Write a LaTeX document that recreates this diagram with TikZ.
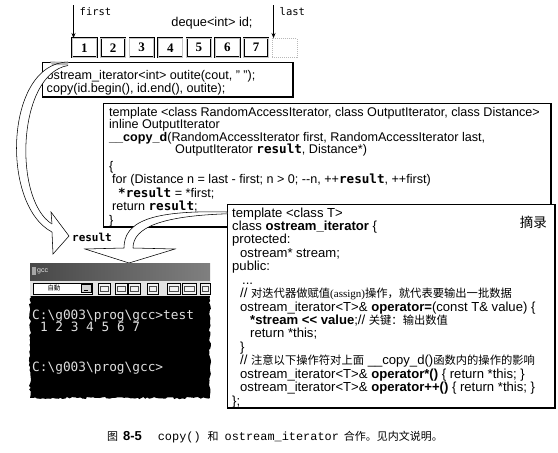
\documentclass[tikz,border=0pt]{standalone}
\usepackage{fontspec}
\setmainfont{Liberation Sans}
\newfontfamily\cjk{Noto Sans CJK SC}
\newfontfamily\dmono{DejaVu Sans Mono}
\newfontfamily\cmono{Liberation Mono}
\newfontfamily\tserif{Liberation Serif}
\usetikzlibrary{arrows.meta,decorations.pathmorphing}
\newcommand{\rsw}{{\dmono\bfseries result}}
\newcommand{\zh}[1]{{\cjk\fontsize{11.3}{13}\selectfont #1}}
\tikzset{
  code/.style={anchor=base west, inner sep=0pt, font=\fontsize{12.6}{13}\selectfont},
  ocode/.style={anchor=base west, inner sep=0pt, font=\fontsize{13.1}{13}\selectfont},
  numbox/.style={draw, line width=0.45pt, double=gray!45, double distance=0.9pt,
     minimum width=24.5pt, minimum height=19pt, inner sep=0pt, anchor=north west,
     font=\tserif\bfseries\fontsize{13}{14}\selectfont},
  emptybox/.style={draw=gray!55, dash pattern=on 1pt off 1pt, line width=0.4pt,
     minimum width=24.5pt, minimum height=19pt, anchor=north west},
  codebox/.style={draw, line width=0.7pt, fill=white},
  ptr/.style={-{Stealth[length=5pt,width=4pt]}, line width=0.5pt},
  lbl/.style={inner sep=0pt, font=\dmono\fontsize{10.5}{12}\selectfont},
  cons/.style={anchor=base west, inner sep=0pt, text=gray!25, font=\dmono\fontsize{12.8}{14}\selectfont},
  hollow/.style={line width=0.55pt},
}
\begin{document}
\begin{tikzpicture}[x=1pt,y=-1pt]
\useasboundingbox (0,0) rectangle (558,453);

% ---------- top: deque ----------
\node[lbl, anchor=west] (firstlbl) at (79.5,12) {first};
\node[lbl, anchor=west] (lastlbl) at (279.5,12) {last};
\node[inner sep=0pt, font=\fontsize{12.8}{14}\selectfont] (deq) at (212,23) {deque<int> id;};
\foreach \i in {1,...,7}{
  \node[numbox] (b\i) at ({72+28.6*(\i-1)},38) {\i};
}
\node[emptybox] (b8) at (272.2,38) {};
\coordinate (f0) at (73.5,5);
\coordinate (l0) at (273.5,5);
\draw[ptr] (f0) -- (f0 |- b1.north);
\draw[ptr] (l0) -- (l0 |- b8.north);

% ---------- outite box ----------
\draw[codebox] (42,62) rectangle (293,97);
\draw[line width=1.3pt] (42,97) -- (293,97) -- (293,62);
\node[code] (o1) at (46.5,79.5) {ostream\_iterator<int> outite(cout, " ");};
\node[code] (o2) at (46.5,92) {copy(id.begin(), id.end(), outite);};

% ---------- left curved hollow arrow ----------
\fill[white] (68,62) .. controls (5,63) and (0,205) .. (52,232)
   -- (52,224) .. controls (13,200) and (17,74) .. (68,65.5) -- cycle;
\fill[gray!55] (50,61.3) -- (68,62) -- (68,65.5) -- (52,64.8) -- cycle;
\draw[hollow] (68,62) .. controls (5,63) and (0,205) .. (52,232);
\draw[hollow] (68,65.5) .. controls (17,74) and (13,200) .. (52,224);
\fill[white] (51,212) -- (69,236) -- (53,254) -- cycle;
\draw[hollow, line join=miter] (52,224) -- (51,212) -- (69,236) -- (53,254) -- (52,232);
\node[inner sep=0pt, font=\dmono\bfseries\fontsize{11}{13}\selectfont] (reslbl) at (92,237) {result};

% ---------- template (__copy_d) box ----------
\draw[codebox] (103,103) rectangle (551,227);
\draw[line width=1.3pt] (103,227) -- (551,227) -- (551,103);
\node[code] (t1) at (109,116) {template <class RandomAccessIterator, class OutputIterator, class Distance>};
\node[code] (t2) at (109,128.5) {inline OutputIterator};
\node[code] (t3) at (109,141) {\textbf{\_\_copy\_d}(RandomAccessIterator first, RandomAccessIterator last,};
\node[code] (t4) at (175,153.5) {OutputIterator \rsw, Distance*)};
\node[code] (t5) at (109,170) {\{};
\node[code] (t6) at (112,183.5) {for (Distance n = last - first; n > 0; -{}-n, ++\rsw, ++first)};
\node[code] (t7) at (118,197) {{\dmono\bfseries *result} = *first;};
\node[code] (t8) at (112,210.5) {return \rsw;};
\node[code] (t9) at (109,224) {\}};

% ---------- ostream_iterator box ----------
\draw[codebox] (227,204) rectangle (555,408);
\draw[line width=1.3pt] (227,408) -- (555,408) -- (555,204);
\node[ocode] (s1) at (232,217) {template <class T>};
\node[ocode] (s2) at (232,230.4) {class \textbf{ostream\_iterator} \{};
\node[ocode] (s3) at (232,243.9) {protected:};
\node[ocode] (s4) at (240,257.3) {ostream* stream;};
\node[ocode] (s5) at (232,270.7) {public:};
\node[ocode] (s6) at (242,284.1) {...};
\node[ocode] (s7) at (240,297.6) {// \zh{对迭代器做赋值}{\tserif\fontsize{11}{13}\selectfont(assign)}\zh{操作，就代表要输出一批数据}};
\node[ocode] (s8) at (240,311) {ostream\_iterator<T>\& \textbf{operator=}(const T\& value) \{};
\node[ocode] (s9) at (250,324.4) {\textbf{*stream <{}< value};// \zh{关键：输出数值}};
\node[ocode] (s10) at (250,337.9) {return *this;};
\node[ocode] (s11) at (240,351.3) {\}};
\node[ocode] (s12) at (240,364.7) {// \zh{注意以下操作符对上面} \_\_copy\_d()\zh{函数内的操作的影响}};
\node[ocode] (s13) at (240,378.1) {ostream\_iterator<T>\& \textbf{operator*()} \{ return *this; \}};
\node[ocode] (s14) at (240,391.6) {ostream\_iterator<T>\& \textbf{operator++()} \{ return *this; \}};
\node[ocode] (s15) at (232,405) {\};};
\node[anchor=east, inner sep=0pt, font=\cjk\fontsize{13.5}{14}\selectfont] (zl) at (547,222) {摘录};

% ---------- hollow arrow to the screenshot ----------
\fill[white] (227,212) .. controls (150,210) and (124,222) .. (124,248)
   -- (133,248) .. controls (133,228) and (160,216) .. (227,213.8) -- cycle;
\draw[hollow] (227,212) .. controls (150,210) and (124,222) .. (124,248);
\draw[hollow] (227,213.8) .. controls (160,216) and (133,228) .. (133,248);
\fill[white] (85,249) -- (129,263) -- (175,249) -- cycle;
\draw[hollow, line join=miter] (124,248) -- (85,249) -- (129,263) -- (175,249) -- (133,248);

% ---------- screenshot ----------
\fill[black, decorate, decoration={random steps, segment length=2.5pt, amplitude=1.1pt}]
   (30,295) rectangle (210,398);
\shade[left color=black!72, right color=black!50] (30,263) rectangle (210,281);
\node[anchor=west, inner sep=0pt, text=gray!20, font=\fontsize{7}{8}\selectfont] (ttl) at (37,271) {gcc};
\fill[gray!70] (32,267) rectangle (36,275);
\fill[gray!22] (30,281) rectangle (210,296);
\draw[fill=white, line width=0.4pt] (33,283) rectangle (92,294);
\node[inner sep=0pt, font=\cjk\fontsize{6.5}{7}\selectfont] (auto) at (54,288.5) {自動};
\draw[fill=gray!35, line width=0.3pt] (81,284.5) rectangle (91,292.5);
\draw[line width=0.5pt] (84,290) -- (88,290);
\foreach \xa/\xb in {98/110, 115/127, 128/140, 147/158, 167/180, 182/196, 200/210}{
  \draw[line width=0.5pt, fill=gray!10] (\xa,283.5) rectangle (\xb,294);
  \draw[line width=0.4pt, gray!60!black] ({\xa+2},286) rectangle ({\xb-2},291.5);
}
\node[cons] (c1) at (32,319.5) {C:\textbackslash g003\textbackslash prog\textbackslash gcc>test};
\node[cons] (c2) at (39.8,331.5) {1 2 3 4 5 6 7};
\node[cons] (c3) at (32,371.5) {C:\textbackslash g003\textbackslash prog\textbackslash gcc>};

% ---------- caption ----------
\node[inner sep=0pt, font=\fontsize{11}{13}\selectfont] (cap) at (275,437)
  {{\cjk 图}\hspace{5pt}\textbf{\fontsize{13}{13}\selectfont 8-5}\hspace{16pt}{\cmono\fontsize{11.9}{13}\selectfont copy()}\hspace{7pt}{\cjk 和}\hspace{6pt}{\cmono\fontsize{11.9}{13}\selectfont ostream\_iterator}\hspace{5pt}{\cjk 合作。见内文说明。}};
\end{tikzpicture}
\end{document}
